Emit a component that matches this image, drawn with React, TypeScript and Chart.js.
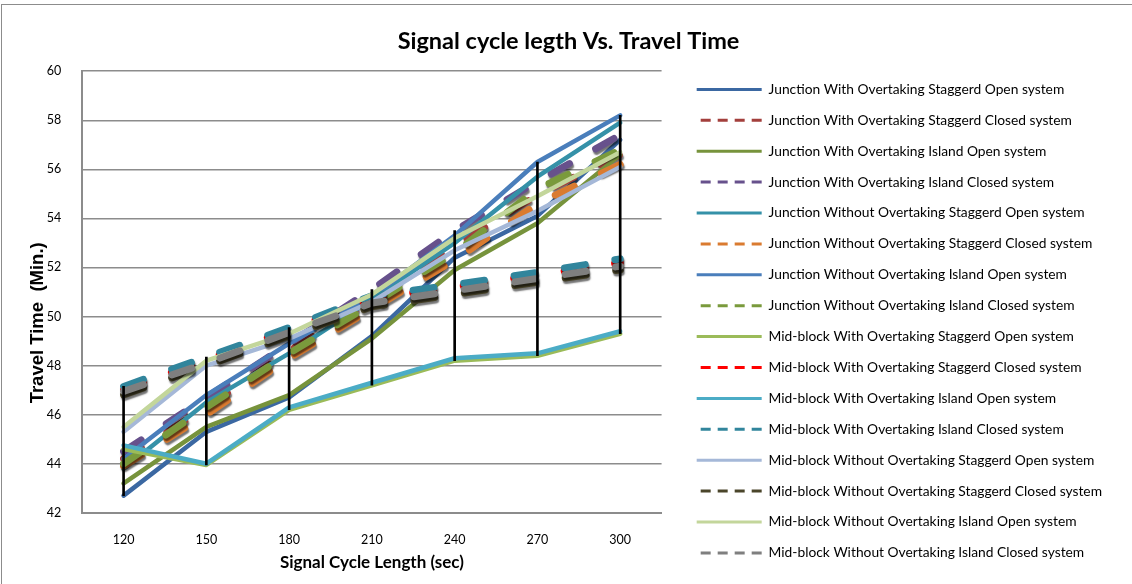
import { useEffect, useRef } from 'react';
import { Chart, registerables } from 'chart.js';

Chart.register(...registerables);

// ---- data ----
const cycleLengths = ['120', '150', '180', '210', '240', '270', '300'];
const yMin = 42;
const yMax = 60;
const yStep = 2;

const jWithStaggerdOpen = [42.7, 45.3, 46.7, 49.2, 52.4, 54.1, 57.2];
const jWithStaggerdClosed = [44.2, 46.3, 48.6, 50.7, 52.9, 54.95, 56.6];
const jWithIslandOpen = [43.2, 45.5, 46.8, 49.1, 51.9, 53.8, 56.6];
const jWithIslandClosed = [44.5, 46.7, 48.9, 51.1, 53.5, 55.5, 57.4];
const jWithoutStaggerdOpen = [43.8, 46.5, 48.5, 50.7, 53.0, 55.7, 57.9];
const jWithoutStaggerdClosed = [43.9, 46.0, 48.3, 50.3, 52.3, 54.6, 56.2];
const jWithoutIslandOpen = [44.2, 46.8, 48.9, 50.8, 53.3, 56.3, 58.2];
const jWithoutIslandClosed = [44.0, 46.3, 48.5, 50.5, 52.6, 55.2, 56.8];
const mWithStaggerdOpen = [44.6, 43.95, 46.2, 47.2, 48.2, 48.4, 49.3];
const mWithStaggerdClosed = [47.0, 48.25, 49.45, 50.75, 51.2, 51.7, 52.2];
const mWithIslandOpen = [44.75, 44.0, 46.3, 47.3, 48.3, 48.5, 49.4];
const mWithIslandClosed = [47.15, 48.35, 49.55, 50.85, 51.3, 51.8, 52.35];
const mWithoutStaggerdOpen = [45.3, 48.0, 49.1, 50.6, 52.7, 54.3, 56.1];
const mWithoutStaggerdClosed = [46.8, 48.0, 49.2, 50.4, 50.9, 51.4, 51.9];
const mWithoutIslandOpen = [45.5, 48.2, 49.3, 50.9, 53.2, 54.9, 56.7];
const mWithoutIslandClosed = [46.95, 48.1, 49.35, 50.55, 51.05, 51.55, 52.05];

const seriesNames = [
  'Junction With Overtaking Staggerd Open system',
  'Junction With Overtaking Staggerd Closed system',
  'Junction With Overtaking Island Open system',
  'Junction With Overtaking Island Closed system',
  'Junction Without Overtaking Staggerd Open system',
  'Junction Without Overtaking Staggerd Closed system',
  'Junction Without Overtaking Island Open system',
  'Junction Without Overtaking Island Closed system',
  'Mid-block With Overtaking Staggerd Open system',
  'Mid-block With Overtaking Staggerd Closed system',
  'Mid-block With Overtaking Island Open system',
  'Mid-block With Overtaking Island Closed system',
  'Mid-block Without Overtaking Staggerd Open system',
  'Mid-block Without Overtaking Staggerd Closed system',
  'Mid-block Without Overtaking Island Open system',
  'Mid-block Without Overtaking Island Closed system',
];

const seriesColors = [
  '#3B68A2', '#A33F3C', '#77933C', '#67518C',
  '#3591A8', '#DA7B30', '#4A7EBB', '#7A9A3C',
  '#9BBB59', '#FF0000', '#4BACC6', '#31859C',
  '#A5B8D8', '#4A452A', '#C3D69B', '#7F7F7F',
];

const seriesDashed = [
  false, true, false, true, false, true, false, true,
  false, true, false, true, false, true, false, true,
];

const titleText = 'Signal cycle legth Vs. Travel Time';
const xTitle = 'Signal Cycle Length (sec)';
const yTitle = 'Travel Time  (Min.)';

export default function App() {
  const canvasRef = useRef<HTMLCanvasElement>(null);

  useEffect(() => {
    document.body.style.margin = '0';
    const canvas = canvasRef.current;
    if (!canvas) return;

    const series = [
      jWithStaggerdOpen, jWithStaggerdClosed, jWithIslandOpen, jWithIslandClosed,
      jWithoutStaggerdOpen, jWithoutStaggerdClosed, jWithoutIslandOpen, jWithoutIslandClosed,
      mWithStaggerdOpen, mWithStaggerdClosed, mWithIslandOpen, mWithIslandClosed,
      mWithoutStaggerdOpen, mWithoutStaggerdClosed, mWithoutIslandOpen, mWithoutIslandClosed,
    ];
    const n = series.length;

    const highLow = cycleLengths.map((_, i) => {
      const vals = series.map((s) => s[i]);
      return [Math.min(...vals), Math.max(...vals)];
    });

    const datasets: any[] = series.map((data, i) => ({
      type: 'line',
      label: seriesNames[i],
      data,
      borderColor: seriesColors[i],
      backgroundColor: seriesColors[i],
      borderWidth: seriesDashed[i] ? 7 : 4.5,
      borderDash: seriesDashed[i] ? [21, 30] : [],
      borderCapStyle: 'round',
      borderJoinStyle: 'round',
      pointRadius: 0,
      pointHoverRadius: 0,
      tension: 0,
      fill: false,
      order: n - i,
    }));

    datasets.push({
      type: 'bar',
      label: 'High-Low',
      data: highLow,
      backgroundColor: '#000000',
      borderWidth: 0,
      barThickness: 2,
      order: 0,
    });

    const shadowPlugin = {
      id: 'closedShadow',
      beforeDatasetDraw(chart: any, args: any) {
        const i = args.index;
        if (i < n && seriesDashed[i]) {
          const ctx = chart.ctx;
          ctx.save();
          ctx.shadowColor = 'rgba(0,0,0,0.55)';
          ctx.shadowOffsetX = 1;
          ctx.shadowOffsetY = 2.5;
          ctx.shadowBlur = 1.5;
        }
      },
      afterDatasetDraw(chart: any, args: any) {
        const i = args.index;
        if (i < n && seriesDashed[i]) {
          chart.ctx.restore();
        }
      },
    };

    const chart = new Chart(canvas, {
      type: 'line',
      data: { labels: cycleLengths, datasets },
      plugins: [shadowPlugin],
      options: {
        animation: false,
        responsive: true,
        maintainAspectRatio: false,
        events: [],
        layout: { padding: { left: 25, right: 20, top: 0, bottom: 0 } },
        plugins: {
          title: {
            display: true,
            text: titleText,
            color: '#000',
            font: { family: 'Lato', size: 23.5, weight: 'bold' },
            padding: { top: 27, bottom: 16 },
          },
          legend: {
            position: 'right',
            align: 'start',
            maxWidth: 700,
            title: {
              display: true,
              text: ' ',
              font: { family: 'Lato', size: 12 },
              padding: { top: 51, bottom: 0 },
            },
            labels: {
              color: '#000',
              font: { family: 'Lato', size: 13.8 },
              padding: 17.1,
              usePointStyle: true,
              pointStyle: 'line',
              pointStyleWidth: 65,
              generateLabels: () =>
                seriesNames.map((name, i) => ({
                  text: name,
                  fillStyle: seriesColors[i],
                  strokeStyle: seriesColors[i],
                  fontColor: '#000',
                  lineWidth: 3,
                  lineDash: seriesDashed[i] ? [10, 7] : [],
                  lineDashOffset: seriesDashed[i] ? 13 : 0,
                  lineCap: 'butt',
                  pointStyle: 'line',
                  hidden: false,
                  datasetIndex: i,
                })),
            },
          },
          tooltip: { enabled: false },
        },
        scales: {
          x: {
            offset: true,
            grid: { display: false, drawTicks: false },
            border: { display: true, color: '#8c8c8c', width: 2 },
            ticks: { color: '#000', font: { family: 'Lato', size: 12.5 }, padding: 20 },
            title: {
              display: true,
              text: xTitle,
              color: '#000',
              font: { family: 'Lato', size: 17, weight: 'bold' },
              padding: { top: -15, bottom: 10.8 },
            },
          },
          y: {
            min: yMin,
            max: yMax,
            ticks: { stepSize: yStep, color: '#000', font: { family: 'Lato', size: 12.5 }, padding: 21 },
            grid: { color: '#8c8c8c', lineWidth: 1.5, drawTicks: false },
            border: { display: true, color: '#8c8c8c', width: 2 },
            title: {
              display: true,
              text: yTitle + '            ',
              color: '#000',
              font: { family: 'Liberation Sans', size: 18.5, weight: 'bold' },
              padding: { top: 2, bottom: -23.5 },
            },
          },
          yPad: {
            type: 'linear',
            position: 'right',
            display: true,
            grid: { display: false, drawTicks: false },
            border: { display: false },
            ticks: { display: false },
            afterFit: (s: any) => {
              s.width = 18;
            },
          },
        },
      } as any,
    });

    return () => chart.destroy();
  }, []);

  return (
    <div style={{ position: 'fixed', left: 0, top: 0, width: 1132, height: 584, background: '#fff' }}>
      <div
        style={{
          position: 'absolute',
          left: 1,
          top: 4,
          width: 1150,
          height: 600,
          borderLeft: '1.5px solid #8c8c8c',
          borderTop: '1.5px solid #8c8c8c',
          pointerEvents: 'none',
        }}
      />
      <canvas ref={canvasRef} />
    </div>
  );
}
